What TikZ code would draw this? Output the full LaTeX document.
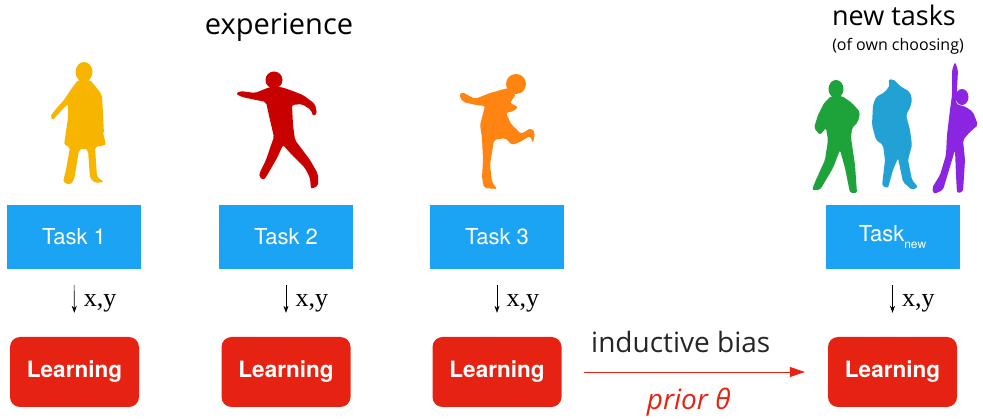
\documentclass[tikz,border=0pt]{standalone}
\usepackage{fontspec}
\setmainfont{Open Sans}
\newfontfamily\boxfont{TeX Gyre Heros}
\newfontfamily\varfont{Liberation Serif}
\usetikzlibrary{arrows.meta}

\definecolor{taskblue}{HTML}{1CA4F4}
\definecolor{learnred}{HTML}{E62312}
\definecolor{kidyellow}{HTML}{F7B500}
\definecolor{kidred}{HTML}{C80000}
\definecolor{kidorange}{HTML}{FF8412}
\definecolor{kidgreen}{HTML}{1EA23A}
\definecolor{kidcyan}{HTML}{22A2D4}
\definecolor{kidpurple}{HTML}{8A26E2}

\begin{document}
\begin{tikzpicture}[x=1pt,y=-1pt,
    task/.style={fill=taskblue,text=white,minimum width=134pt,minimum height=64pt,
                 inner sep=0pt,font=\boxfont\fontsize{22}{24}\selectfont},
    learn/.style={fill=learnred,text=white,rounded corners=10pt,minimum width=129pt,
                  minimum height=70pt,inner sep=0pt,font=\boxfont\bfseries\fontsize{22.5}{24}\selectfont},
    xy/.style={-{Stealth[length=7pt,width=5pt]},semithick,shorten <=16pt,shorten >=24pt},
    bias/.style={-{Triangle[length=15pt,width=10pt]},learnred,thick,shorten <=22pt,shorten >=23pt},
    kid/.style={rounded corners=2pt}]
    \useasboundingbox (0,0) rectangle (983,419);
    % ------------------------------------------------------------------
    %                             NODES
    % ------------------------------------------------------------------
    % headings
    \node (exp)    at (279,27)  {\fontsize{29}{31}\selectfont experience};
    \node (new)    at (894,15)  {\fontsize{27}{29}\selectfont new tasks};
    \node (choose) at (898,46)  {\fontsize{16}{18}\selectfont (of own choosing)};
    % task row
    \node[task] (task1)   at (74,237)    {Task 1};
    \node[task] (task2)   at (286,237)   {Task 2};
    \node[task] (task3)   at (497,237)   {Task 3};
    \node[task] (tasknew) at (892.5,237) {Task\raisebox{-7pt}{\fontsize{12}{12}\selectfont new}};
    % learning row
    \node[learn] (learn1)   at (74.5,372)  {Learning};
    \node[learn] (learn2)   at (286,372)   {Learning};
    \node[learn] (learn3)   at (497,372)   {Learning};
    \node[learn] (learnnew) at (892.5,372) {Learning};

    % ------------------------------------------------------------------
    %                             EDGES
    % ------------------------------------------------------------------
    \path[font=\varfont\fontsize{26}{28}\selectfont]
      (task1)   edge[xy] node[right=6pt] {x,y} (learn1)
      (task2)   edge[xy] node[right=6pt] {x,y} (learn2)
      (task3)   edge[xy] node[right=6pt] {x,y} (learn3)
      (tasknew) edge[xy] node[right=6pt] {x,y} (learnnew);
    \draw[bias] (learn3) -- (learnnew)
      node[midway,above=15pt,xshift=-14pt,text=black!85,font=\fontsize{28}{30}\selectfont] {inductive bias}
      node[midway,below=12pt,xshift=-6pt,text=learnred,font=\itshape\fontsize{28}{30}\selectfont] {prior θ};

    % ------------------------------------------------------------------
    %                             FIGURES
    % ------------------------------------------------------------------
    % standing girl
    \fill[kidyellow] (84,72) ellipse (8.5 and 10);
    \fill[kidyellow,kid] (78,80) -- (72,88) -- (64,100) -- (55,110) -- (50,117) -- (53,120)
      -- (60,112) -- (68,104) -- (68,118) -- (64,145) -- (70,147) -- (66,170) -- (63,182)
      -- (70,185) -- (74,180) -- (79,150) -- (84,148) -- (88,150) -- (90,178) -- (95,183)
      -- (104,182) -- (97,177) -- (95,147) -- (106,145) -- (101,124) -- (100,135) -- (104,134)
      -- (102,95) -- (96,87) -- (90,80) -- cycle;
    % runner
    \fill[kidred] (274,80) circle (8.5);
    \fill[kidred,kid] (270,87) -- (255,93) -- (240,91) -- (236,94) -- (242,97) -- (256,100)
      -- (266,102) -- (270,120) -- (274,137) -- (270,148) -- (266,160) -- (260,172) -- (259,177)
      -- (264,180) -- (269,172) -- (277,158) -- (283,145) -- (292,155) -- (305,168) -- (310,178)
      -- (311,189) -- (318,186) -- (318,174) -- (310,160) -- (295,140) -- (293,125) -- (292,105)
      -- (302,104) -- (311,110) -- (313,116) -- (317,114) -- (315,104) -- (303,95) -- (290,90)
      -- (281,87) -- cycle;
    % kicking boy
    \fill[kidorange] (516,84) circle (10);
    \fill[kidorange,kid] (508,88) -- (490,93) -- (475,99) -- (462,92) -- (459,95) -- (463,102)
      -- (476,105) -- (485,106) -- (480,125) -- (482,138) -- (483,160) -- (482,178) -- (484,188)
      -- (497,189) -- (492,182) -- (490,165) -- (494,140) -- (505,138) -- (512,145) -- (520,142)
      -- (530,136) -- (533,143) -- (535,133) -- (531,128) -- (521,134) -- (511,124) -- (506,113)
      -- (514,111) -- (518,107) -- (510,103) -- (516,94) -- cycle;
    % hands on hips
    \fill[kidgreen] (836,89) ellipse (7.5 and 9);
    \fill[kidgreen,kid] (831,96) -- (824,103) -- (818,115) -- (814,128) -- (820,135) -- (826,128)
      -- (828,140) -- (825,160) -- (815,182) -- (812,190) -- (820,190) -- (833,168) -- (840,150)
      -- (845,168) -- (850,193) -- (857,193) -- (855,165) -- (851,138) -- (852,128) -- (858,122)
      -- (860,112) -- (852,103) -- (842,96) -- cycle;
    % bending over, arm over the head
    \fill[kidcyan,kid] (873,105) -- (876,97) -- (885,92) -- (890,85) -- (888,80) -- (893,79)
      -- (900,86) -- (910,92) -- (912,100) -- (910,108) -- (906,115) -- (910,130) -- (912,145)
      -- (908,160) -- (912,180) -- (918,187) -- (912,190) -- (903,182) -- (898,158) -- (893,170)
      -- (888,188) -- (882,186) -- (885,160) -- (883,145) -- (876,140) -- (872,125) -- cycle;
    % arm up
    \fill[kidpurple] (962,97) ellipse (6.5 and 8);
    \fill[kidpurple,kid] (955,62) -- (958,70) -- (957,90) -- (956,104) -- (966,107) -- (973,112)
      -- (978,125) -- (970,132) -- (963,140) -- (965,160) -- (963,192) -- (957,193) -- (956,175)
      -- (955,150) -- (952,160) -- (943,190) -- (934,194) -- (932,188) -- (940,175) -- (946,155)
      -- (947,135) -- (950,110) -- (952,95) -- (952,70) -- cycle;
\end{tikzpicture}
\end{document}
